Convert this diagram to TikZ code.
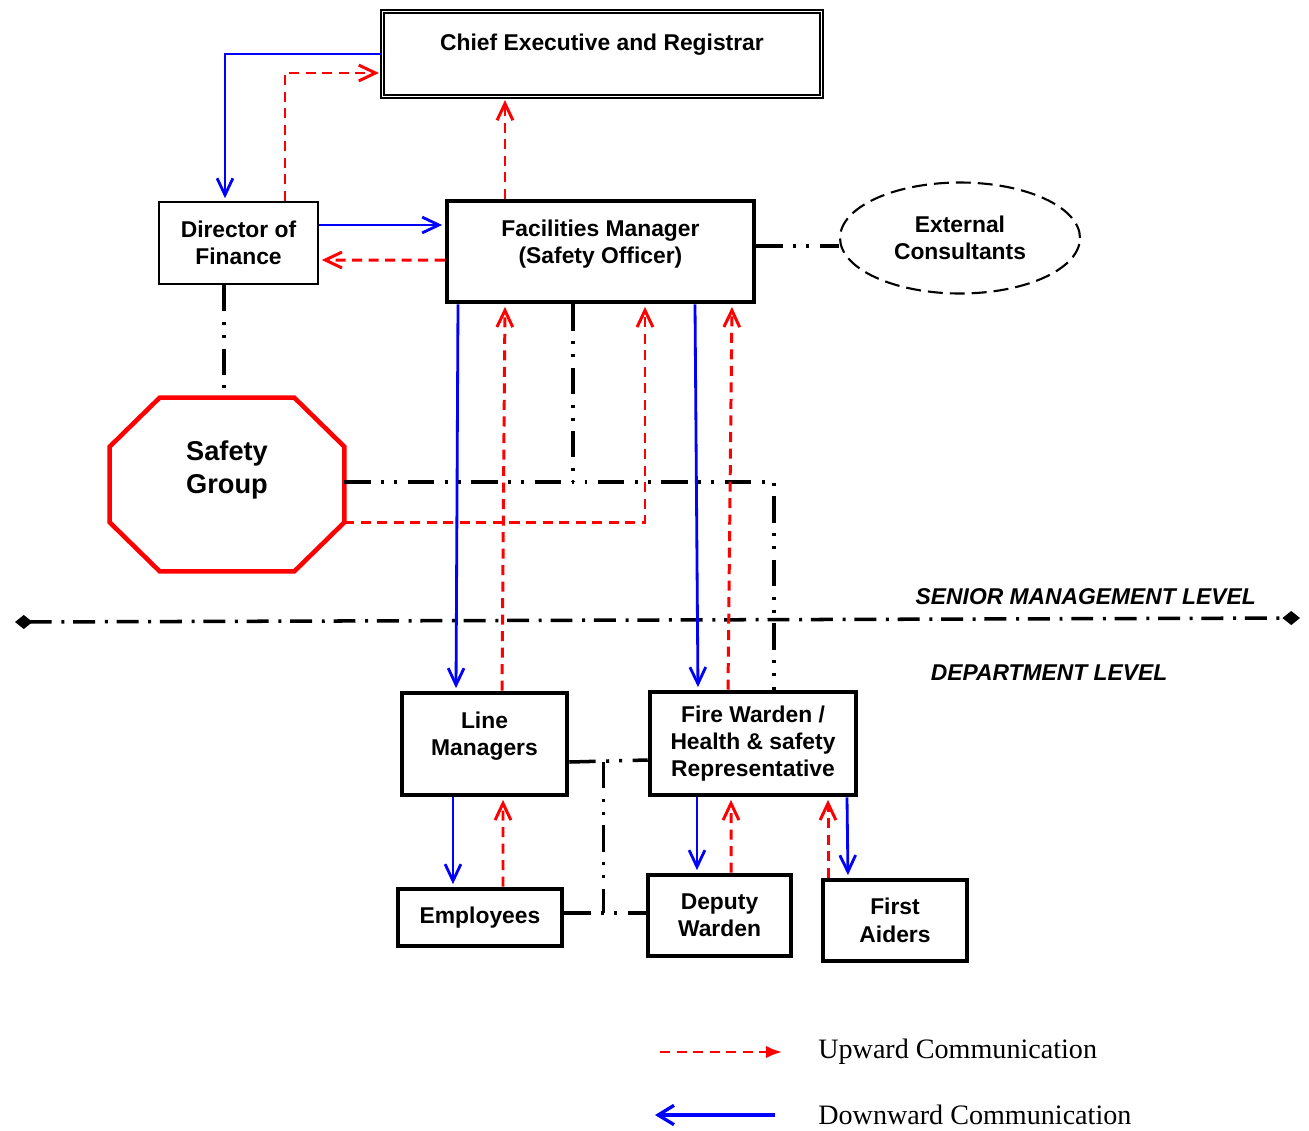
\documentclass[tikz,border=0pt]{standalone}
\usepackage{fontspec}
\setmainfont{Liberation Serif}
\setsansfont{Liberation Sans}
\usetikzlibrary{positioning,arrows.meta,shapes}

\begin{document}
\begin{tikzpicture}[
  x=0.02cm, y=-0.02cm,
  font=\sffamily\bfseries\fontsize{13}{15.6}\selectfont,
  bx/.style={rectangle, draw=black, line width=1.3pt, align=center, inner sep=2pt},
  bxt/.style={bx, line width=2.6pt},
  dwn/.style={draw=blue, line width=1.6pt, -{Straight Barb[length=9.5pt,width=9pt]}, shorten >=1.5pt},
  upw/.style={draw=red, line width=1.7pt, dash pattern=on 5.7pt off 3.7pt,
              -{Straight Barb[length=9.5pt,width=9pt]}, shorten >=1.5pt},
  lnk/.style={draw=black, line width=2pt,
              dash pattern=on 15pt off 6pt on 1.7pt off 5.7pt on 1.7pt off 6pt},
  lvlline/.style={draw=black, line width=2pt, dash pattern=on 12.5pt off 5.5pt on 1.7pt off 5pt},
  lvl/.style={font=\sffamily\bfseries\itshape\fontsize{13}{15.6}\selectfont},
  legtxt/.style={font=\rmfamily\mdseries\fontsize{16}{19}\selectfont, inner sep=0pt}
]
\useasboundingbox (0,0) rectangle (1309,1130);

% senior level
\node[bx, double, line width=1.1pt, double distance=1pt, minimum width=8.78cm, minimum height=1.7cm,
      text depth=13.7pt] (chief) at (602,54) {Chief Executive and Registrar};
\node[bx, minimum width=3.18cm, minimum height=1.64cm] (dof) at (238.5,243) {Director of\\Finance};
\node[bxt, minimum width=6.14cm, minimum height=2.02cm, text depth=10.9pt] (fm) at (600.5,251.5)
  {Facilities Manager\\(Safety Officer)};
\node[ellipse, draw=black, line width=1.2pt, dash pattern=on 8.5pt off 4pt, align=center,
      minimum width=4.8cm, minimum height=2.22cm] (ec) at (960,238) {External\\Consultants};
\node[align=center, inner sep=0pt, minimum width=4.68cm, minimum height=3.46cm, text depth=20pt,
      font=\sffamily\bfseries\fontsize{15.5}{18.6}\selectfont] (sg) at (227,484.5) {Safety\\Group};
\draw[red, line width=2.6pt, line join=miter]
  ([shift={(50,0)}]sg.north west) -- ([shift={(-50,0)}]sg.north east)
  -- ([shift={(0,49)}]sg.north east) -- ([shift={(0,-49)}]sg.south east)
  -- ([shift={(-50,0)}]sg.south east) -- ([shift={(50,0)}]sg.south west)
  -- ([shift={(0,-49)}]sg.south west) -- ([shift={(0,49)}]sg.north west) -- cycle;

% department level
\node[bxt, minimum width=3.3cm, minimum height=2.04cm, text depth=11.5pt] (lm) at (484.5,744) {Line\\Managers};
\node[bxt, minimum width=4.12cm, minimum height=2.06cm] (fw) at (753,743.5)
  {Fire Warden /\\Health \& safety\\Representative};
\node[bxt, minimum width=3.28cm, minimum height=1.14cm] (emp) at (480,917.5) {Employees};
\node[bxt, minimum width=2.86cm, minimum height=1.62cm] (dw) at (719.5,915.5) {Deputy\\Warden};
\node[bxt, minimum width=2.88cm, minimum height=1.62cm] (fa) at (895,920.5) {First\\Aiders};

% level divider
\coordinate (lvlL) at (15,622);
\coordinate (lvlR) at (1300,618);
\draw[lvlline, {Diamond[length=10pt,width=8pt]}-{Diamond[length=10pt,width=8pt]}] (lvlL) -- (lvlR);
\node[lvl, anchor=east] (senior) at (1262,597) {SENIOR MANAGEMENT LEVEL};
\node[lvl] (dept) at (1049,673) {DEPARTMENT LEVEL};

% dash-dot links
\coordinate (sgj) at ([shift={(0,-2.5)}]sg.east);
\coordinate (fmj) at ([shift={(-27.5,0)}]fm.south);
\coordinate (lmj) at ([shift={(0,18)}]lm.east);
\coordinate (empj) at ([shift={(0,-4.5)}]emp.east);
\draw[lnk] ([shift={(-14.5,0)}]dof.south) -- ([shift={(-3,0)}]sg.north);
\draw[lnk] ([shift={(0,-5.5)}]fm.east) -- ([shift={(0,8)}]ec.west);
\draw[lnk] (sgj) -| ([shift={(21,0)}]fw.north);
\draw[lnk] (fmj) -- (fmj |- sgj);
\draw[lnk] (lmj) -- ([shift={(0,16.5)}]fw.west);
\draw[lnk] (empj) -- ([shift={(0,-2.5)}]dw.west);
\draw[lnk] ([shift={(34,0)}]lmj) -- ([shift={(39,0)}]empj);

% downward
\draw[dwn] (chief.west) -| ([shift={(-13.5,0)}]dof.north);
\draw[dwn] ([shift={(0,-18)}]dof.east) -- ([shift={(0,-26.5)}]fm.west);
\draw[dwn] ([shift={(-142.5,0)}]fm.south) -- ([shift={(-28.5,0)}]lm.north);
\draw[dwn] ([shift={(94.5,0)}]fm.south) -- ([shift={(-55,0)}]fw.north);
\draw[dwn] ([shift={(-31.5,0)}]lm.south) -- ([shift={(-27,0)}]emp.north);
\draw[dwn] ([shift={(-56,0)}]fw.south) -- ([shift={(-22.5,0)}]dw.north);
\draw[dwn] ([shift={(94,0)}]fw.south) -- ([shift={(-47,0)}]fa.north);

% upward
\draw[upw] ([shift={(46.5,0)}]dof.north) |- ([shift={(0,19)}]chief.west);
\draw[upw] ([shift={(0,8.5)}]fm.west) -- ([shift={(0,17)}]dof.east);
\draw[upw] ([shift={(-95.5,0)}]fm.north) -- ([shift={(-97,0)}]chief.south);
\draw[upw] ([shift={(17.5,0)}]lm.north) -- ([shift={(-95.5,0)}]fm.south);
\draw[upw] ([shift={(0,37.5)}]sg.east) -| ([shift={(44.5,0)}]fm.south);
\draw[upw] ([shift={(-25,0)}]fw.north) -- ([shift={(131.5,0)}]fm.south);
\draw[upw] ([shift={(23,0)}]emp.north) -- ([shift={(18.5,0)}]lm.south);
\draw[upw] ([shift={(11.5,0)}]dw.north) -- ([shift={(-22,0)}]fw.south);
\draw[upw] ([shift={(-67,0)}]fa.north) -- ([shift={(75,0)}]fw.south);

% legend
\coordinate (upS) at (660,1052);
\coordinate (upE) at (782,1052);
\coordinate (dnS) at (775,1115);
\coordinate (dnE) at (655,1115);
\draw[upw, line width=1.4pt, -{Latex[length=9pt,width=7pt]}, shorten >=0pt] (upS) -- (upE);
\draw[dwn, line width=1.9pt, -{Straight Barb[length=9pt,width=11pt]}, shorten >=0pt] (dnS) -- (dnE);
\node[legtxt, anchor=west] (uptxt) at (818,1052) {Upward Communication};
\node[legtxt, anchor=west] (dntxt) at (818,1115) {Downward Communication};
\end{tikzpicture}
\end{document}
